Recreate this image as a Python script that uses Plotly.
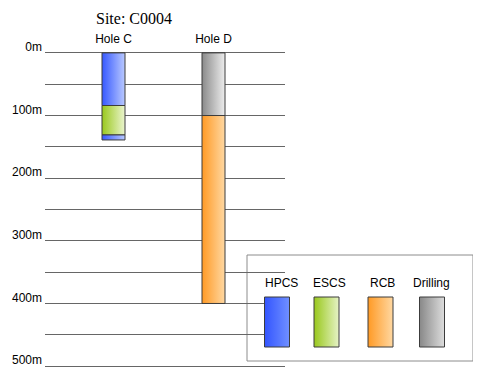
import plotly.graph_objects as go

# ---- data ----
site = "Site: C0004"
holes = ["Hole C", "Hole D"]
sec_hole = ["Hole C", "Hole C", "Hole C", "Hole D", "Hole D"]
sec_top = [0, 84, 131, 0, 100]
sec_bottom = [84, 131, 139, 100, 400]
sec_method = ["HPCS", "ESCS", "HPCS", "Drilling", "RCB"]
methods = ["HPCS", "ESCS", "RCB", "Drilling"]
depth_ticks = [0, 50, 100, 150, 200, 250, 300, 350, 400, 450, 500]
depth_labels = ["0m", "", "100m", "", "200m", "", "300m", "", "400m", "", "500m"]

# ---- styles ----
grad = {
    "HPCS": [[0, "#3658ff"], [1, "#b9c9ff"]],
    "ESCS": [[0, "#99c81c"], [1, "#ebf5cf"]],
    "RCB": [[0, "#ff9a25"], [1, "#ffd8a2"]],
    "Drilling": [[0, "#8a8a8a"], [1, "#ededed"]],
}
legend_grad = {
    "HPCS": [[0, "#3355ff"], [1, "#7090ff"]],
    "ESCS": [[0, "#99c81c"], [1, "#e6f3c6"]],
    "RCB": [[0, "#ff9a25"], [1, "#ffd8a2"]],
    "Drilling": [[0, "#888888"], [1, "#dddddd"]],
}
OFF = 8  # page body margin
W, H = 481 - OFF, 378 - OFF
ML, MR, MT, MB = 45 - OFF, 5, 51 - OFF, 10
PW, PH = W - ML - MR, H - MT - MB
bar_w = 0.23
font_sans = "Liberation Sans, Arial"

# page-pixel -> paper helpers (layout positions only)
def px_x(p):
    return (p - OFF - ML) / PW

def px_y(p):
    return (H - MB - (p - OFF)) / PH

fig = go.Figure()

hole_idx = {h: i for i, h in enumerate(holes)}
for h, t, b, m in zip(sec_hole, sec_top, sec_bottom, sec_method):
    c = hole_idx[h]
    x0, x1 = c - bar_w / 2, c + bar_w / 2
    fig.add_trace(go.Scatter(
        x=[x0, x1, x1, x0, x0], y=[t, t, b, b, t],
        mode="lines", fill="toself",
        fillgradient=dict(type="horizontal", colorscale=grad[m]),
        line=dict(color="#3c3c3c", width=1),
        hoverinfo="skip", showlegend=False, xaxis="x", yaxis="y",
    ))

# legend swatches (on overlay page-pixel axes)
leg_centers = [277, 326.5, 380.5, 432]
leg_label_x = [281, 329, 382, 431]
for m, cx, lx in zip(methods, leg_centers, leg_label_x):
    x0, x1 = cx - 12.5, cx + 12.5
    y0, y1 = 297, 347
    fig.add_trace(go.Scatter(
        x=[x0, x1, x1, x0, x0], y=[y0, y0, y1, y1, y0],
        mode="lines", fill="toself",
        fillgradient=dict(type="horizontal", colorscale=legend_grad[m]),
        line=dict(color="#3c3c3c", width=1),
        hoverinfo="skip", showlegend=False, xaxis="x2", yaxis="y2",
    ))
    fig.add_annotation(x=px_x(lx), y=px_y(283), xref="paper", yref="paper",
                       xanchor="center", yanchor="middle",
                       text=m, showarrow=False,
                       font=dict(family=font_sans, size=12, color="#000"))

fig.add_shape(type="rect", xref="paper", yref="paper",
              x0=px_x(247), x1=px_x(473), y0=px_y(361), y1=px_y(255),
              line=dict(color="#8c8c8c", width=1), fillcolor="white", layer="between")

fig.add_annotation(x=px_x(133.5), y=px_y(8), xref="paper", yref="paper",
                   xanchor="center", yanchor="top",
                   text=site, showarrow=False,
                   font=dict(family="Liberation Serif, Times New Roman", size=16, color="#000"))

xr = [(45 - 113.5) / 100, (285 - 113.5) / 100]
fig.update_layout(
    width=W, height=H,
    margin=dict(l=ML, r=MR, t=MT, b=MB, autoexpand=False),
    paper_bgcolor="white", plot_bgcolor="rgba(0,0,0,0)",
    showlegend=False,
    xaxis=dict(domain=[0, 240 / PW], range=xr, side="top", automargin=False,
               tickvals=list(range(len(holes))), ticktext=holes,
               showgrid=False, zeroline=False, showline=False, ticks="",
               ticklabelstandoff=5,
               tickfont=dict(family=font_sans, size=12, color="#000")),
    yaxis=dict(range=[500 + 3, -3], tickvals=depth_ticks, ticktext=depth_labels,
               automargin=False,
               showgrid=True, gridcolor="#666666", gridwidth=1,
               zeroline=False, showline=False, ticks="",
               ticklabelshift=6, ticklabelstandoff=2,
               tickfont=dict(family=font_sans, size=12, color="#000")),
    xaxis2=dict(domain=[0, 1], range=[45, 476], visible=False, anchor="y2"),
    yaxis2=dict(domain=[0, 1], range=[368, 51], visible=False, anchor="x2", overlaying="y"),
)

fig.write_html("out.html")
